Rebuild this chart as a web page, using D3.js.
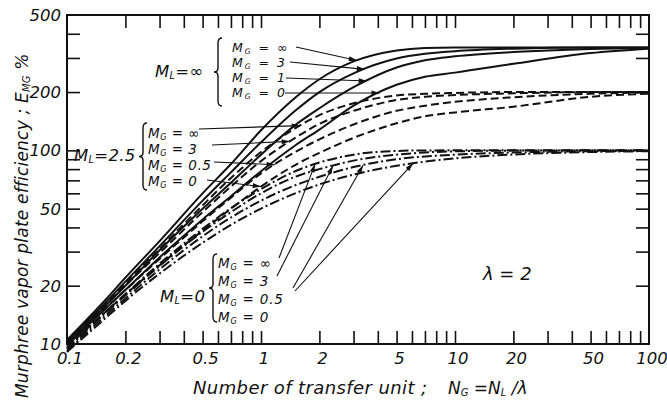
<!DOCTYPE html>
<html><head><meta charset="utf-8">
<script src="https://cdn.jsdelivr.net/npm/d3@7"></script>
<style>
body{margin:0;background:#fff;}
text{font-family:"DejaVu Sans","Liberation Sans",sans-serif;font-style:oblique;fill:#111;}
</style>
</head><body>
<svg id="chart" width="667" height="403"></svg>
<script>
// ---- data ----
const N_pts = [0.1,0.15,0.2,0.3,0.5,0.7,1,1.5,2,3,5,7,10,20,50,100];
// M_L = infinity (solid)
const mlInf_mgInf = [10.5,16,22,34,60,85,127,187,233,288,328,338,340,340,340,340];
const mlInf_mg3   = [10.3,15.5,21,32,55,77,110,160,200,250,298,315,325,335,340,340];
const mlInf_mg1   = [10,15,20,30.5,50,68,95,135,165,212,268,292,306,322,334,338];
const mlInf_mg0   = [9.8,14.5,19,28,44,58,78,106,128,170,218,240,252,280,318,335];
// M_L = 2.5 (dashed)
const ml25_mgInf  = [10.3,15.3,20.5,31,52,72,98,130,152,175,192,196,198,200,200,200];
const ml25_mg3    = [10.1,15,20,29.5,48,65,88,116,137,160,182,189,193,197,200,200];
const ml25_mg05   = [9.9,14.6,19,27.5,43,57,76,98,114,136,160,170,178,188,196,199];
const ml25_mg0    = [9.6,14,18,25.5,38.5,50,65,84,97,116,138,150,157,168,189,196];
// M_L = 0 (dash-dot)
const ml0_mgInf   = [9.5,14,18.1,26,39.3,50.3,63,78,86.5,95,99.3,99.9,100,100,100,100];
const ml0_mg3     = [9.4,13.8,17.8,25.3,38,48,60,73,80,88.5,95,97.5,98.8,99.7,100,100];
const ml0_mg05    = [9.2,13.4,17.2,24.3,36,45,55,66,73,82,90,93,95,97.5,99,99.5];
const ml0_mg0     = [9.1,13,16.7,23.1,33.3,41.2,50,60,66.7,75,83.3,87.5,90.9,95.2,98,99];

const xTickLabels = ["0.1","0.2","0.5","1","2","5","10","20","50","100"];
const yTickLabels = ["10","20","50","100","200","500"];
const xMinorTicks = [0.2,0.3,0.4,0.5,0.6,0.7,0.8,0.9,1,2,3,4,5,6,7,8,9,10,20,30,40,50,60,70,80,90];
const yMinorTicks = [20,30,40,50,60,70,80,90,100,200,300,400];

// annotation texts / pointer targets (N where arrow touches curve)
const annInfVals = ["∞","3","1","0"];
const annInfSeries = [mlInf_mgInf, mlInf_mg3, mlInf_mg1, mlInf_mg0];
const annInfTipN = [3.13, 3.44, 3.52, 4.1];
const ann25Vals = ["∞","3","0.5","0"];
const ann25Series = [ml25_mgInf, ml25_mg3, ml25_mg05, ml25_mg0];
const ann25TipN = [1.59, 1.41, 1.18, 1.0];
const ann0Vals = ["∞","3","0.5","0"];
const ann0Series = [ml0_mgInf, ml0_mg3, ml0_mg05, ml0_mg0];
const ann0TipN = [1.9, 2.35, 3.36, 6.08];

// ---- layout ----
const L = 67, R = 649, T = 15, B = 344;
const svg = d3.select("#chart");
const x = d3.scaleLog().domain([0.1,100]).range([L,R]);
const y = d3.scaleLog().domain([10,500]).range([B,T]);

svg.append("defs").append("marker")
  .attr("id","arr").attr("viewBox","0 0 10 6").attr("refX",10).attr("refY",3)
  .attr("markerWidth",9).attr("markerHeight",5).attr("markerUnits","userSpaceOnUse")
  .attr("orient","auto")
  .append("path").attr("d","M0,0L10,3L0,6Z").attr("fill","#111");

// frame
svg.append("rect").attr("x",L).attr("y",T).attr("width",R-L).attr("height",B-T)
  .attr("fill","none").attr("stroke","#111").attr("stroke-width",2);

// ticks inside frame using d3 axes
const tl = 13;
svg.append("g").attr("transform",`translate(0,${B})`)
  .call(d3.axisTop(x).tickValues(xMinorTicks).tickSize(tl).tickFormat(""))
  .call(g=>g.select(".domain").remove());
svg.append("g").attr("transform",`translate(0,${T})`)
  .call(d3.axisBottom(x).tickValues(xMinorTicks).tickSize(tl).tickFormat(""))
  .call(g=>g.select(".domain").remove());
svg.append("g").attr("transform",`translate(${L},0)`)
  .call(d3.axisRight(y).tickValues(yMinorTicks).tickSize(tl).tickFormat(""))
  .call(g=>g.select(".domain").remove());
svg.append("g").attr("transform",`translate(${R},0)`)
  .call(d3.axisLeft(y).tickValues(yMinorTicks).tickSize(tl).tickFormat(""))
  .call(g=>g.select(".domain").remove());
svg.selectAll(".tick line").attr("stroke","#111").attr("stroke-width",1.6);

// tick labels
svg.append("g").selectAll("text").data(xTickLabels).join("text")
  .attr("x",d=>x(+d)+3).attr("y",364).attr("text-anchor","middle")
  .attr("font-size",16.5).text(d=>d);
svg.append("g").selectAll("text").data(yTickLabels).join("text")
  .attr("x",61).attr("y",d=>y(+d)+6).attr("text-anchor","end")
  .attr("font-size",16.5).text(d=>d);

// curves
const line = d3.line().x((d,i)=>x(N_pts[i])).y(d=>y(d)).curve(d3.curveMonotoneX);
const curves = [
  {s:mlInf_mgInf,dash:null},{s:mlInf_mg3,dash:null},{s:mlInf_mg1,dash:null},{s:mlInf_mg0,dash:null},
  {s:ml25_mgInf,dash:"8,4"},{s:ml25_mg3,dash:"8,4"},{s:ml25_mg05,dash:"8,4"},{s:ml25_mg0,dash:"8,4"},
  {s:ml0_mgInf,dash:"10,3,2,3"},{s:ml0_mg3,dash:"10,3,2,3"},{s:ml0_mg05,dash:"10,3,2,3"},{s:ml0_mg0,dash:"10,3,2,3"}
];
svg.append("g").selectAll("path").data(curves).join("path")
  .attr("d",d=>line(d.s)).attr("fill","none").attr("stroke","#111")
  .attr("stroke-width",2).attr("stroke-dasharray",d=>d.dash);

// helper: value of a series at n (log-log interpolation)
function valAt(series,n){
  const ln = Math.log(n);
  for(let i=0;i<N_pts.length-1;i++){
    const a=Math.log(N_pts[i]), b=Math.log(N_pts[i+1]);
    if(ln>=a && ln<=b){const t=(ln-a)/(b-a);
      return Math.exp(Math.log(series[i])*(1-t)+Math.log(series[i+1])*t);}
  }
  return series[series.length-1];
}

function mText(g,xp,yp,sub,rest,fs,ls){
  const t=g.append("text").attr("x",xp).attr("y",yp).attr("font-size",fs)
    .attr("letter-spacing",ls||0);
  t.append("tspan").text("M");
  t.append("tspan").attr("font-size",fs*0.6).attr("dy",1.5).text(sub);
  t.append("tspan").attr("dy",-1.5).text(rest);
  return t;
}
function brace(g,xp,y0,y1){
  const ym=(y0+y1)/2;
  g.append("path").attr("fill","none").attr("stroke","#111").attr("stroke-width",1.4)
   .attr("d",`M${xp+5},${y0} Q${xp+1},${y0} ${xp+1},${y0+5} L${xp+1},${ym-4} Q${xp+1},${ym} ${xp-3},${ym} Q${xp+1},${ym} ${xp+1},${ym+4} L${xp+1},${y1-5} Q${xp+1},${y1} ${xp+5},${y1}`);
}
function group(opts){
  const g=svg.append("g");
  mText(g,opts.lx,opts.ly,"L",opts.ltext,16.5,0.3);
  brace(g,opts.bx,opts.by0,opts.by1);
  opts.vals.forEach((v,i)=>{
    mText(g,opts.rx,opts.rows[i],"G",opts.eq+v,opts.fs,opts.ls);
    const n=opts.tips[i];
    g.append("line").attr("x1",opts.starts[i][0]).attr("y1",opts.starts[i][1])
      .attr("x2",x(n)).attr("y2",y(valAt(opts.series[i],n)))
      .attr("stroke","#111").attr("stroke-width",1.1).attr("marker-end","url(#arr)");
  });
}
group({lx:155,ly:77,ltext:"=∞",bx:217,by0:38,by1:106,rx:232,rows:[52,67,82,97],fs:12.5,ls:2,eq:" = ",
  vals:annInfVals,series:annInfSeries,tips:annInfTipN,
  starts:[[296,47],[290,62],[286,78],[285,93]]});
group({lx:74,ly:161,ltext:"=2.5",bx:142,by0:123,by1:190,rx:148,rows:[138,154,170,186],fs:13.5,ls:0.5,eq:" = ",
  vals:ann25Vals,series:ann25Series,tips:ann25TipN,
  starts:[[199,129],[212,145],[214,162],[207,180]]});
group({lx:160,ly:302,ltext:"=0",bx:212,by0:254,by1:322,rx:218,rows:[268,286,304,322],fs:13.5,ls:0.8,eq:" = ",
  vals:ann0Vals,series:ann0Series,tips:ann0TipN,
  starts:[[279,258],[277,276],[293,288],[295,291]]});

svg.append("text").attr("x",483).attr("y",280).attr("font-size",18).text("λ = 2");

// axis titles
svg.append("text").attr("x",193).attr("y",394).attr("font-size",18).attr("letter-spacing",0.4)
  .text("Number of transfer unit ;");
const xt=svg.append("text").attr("x",448).attr("y",394).attr("font-size",17);
xt.append("tspan").text("N");
xt.append("tspan").attr("font-size",10).attr("dy",2).text("G");
xt.append("tspan").attr("dy",-2).text(" =N");
xt.append("tspan").attr("font-size",10).attr("dy",2).text("L");
xt.append("tspan").attr("dy",-2).text(" /λ");

const yt=svg.append("text").attr("transform","translate(28,398) rotate(-90)").attr("font-size",17)
  .attr("letter-spacing",0.2);
yt.append("tspan").text("Murphree vapor plate efficiency ;  E");
yt.append("tspan").attr("font-size",10).attr("dy",2).text("MG");
yt.append("tspan").attr("dy",-2).text(" %");
</script>
</body></html>
